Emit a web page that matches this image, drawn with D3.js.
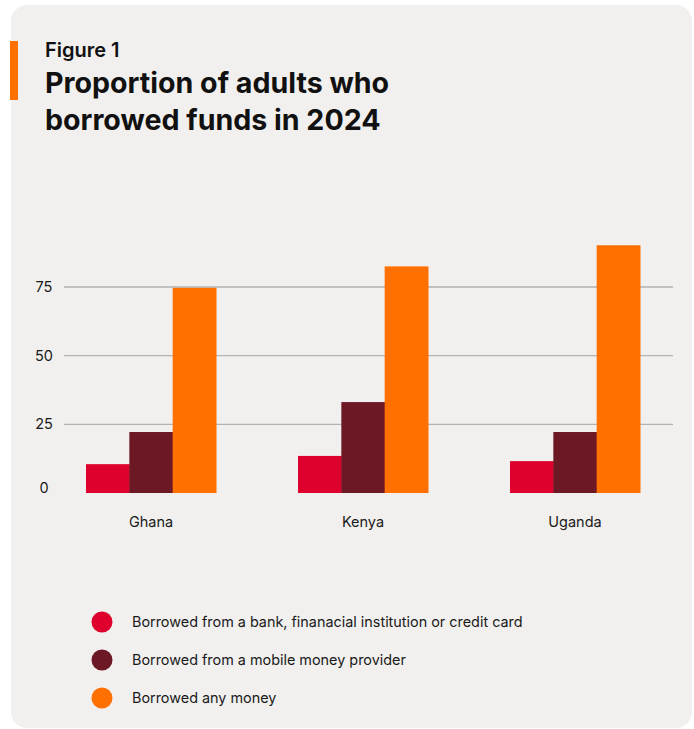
<!DOCTYPE html>
<html>
<head>
<meta charset="utf-8">
<style>
  body { margin: 0; background: #fff; }
  svg { display: block; font-family: Inter, "Noto Sans", sans-serif; }
</style>
<script src="https://cdn.jsdelivr.net/npm/d3@7"></script>
</head>
<body>
<svg></svg>
<script>

var countries = ["Ghana", "Kenya", "Uganda"],
    seriesNames = ["Borrowed from a bank, finanacial institution or credit card",
                   "Borrowed from a mobile money provider",
                   "Borrowed any money"],
    seriesColours = ["#de002d", "#6c1825", "#ff7000"],
    bankValues = [10.5, 13.5, 11.6],
    mobileValues = [22.2, 33.1, 22.2],
    anyValues = [74.7, 82.5, 90.2],
    yTicks = [0, 25, 50, 75];

var width = 694,
    height = 729,
    svg = d3.select("svg").attr("width", width).attr("height", height);

var series = [bankValues, mobileValues, anyValues];

// card background
svg.append("rect")
    .attr("x", 11).attr("y", 5)
    .attr("width", 681).attr("height", 723)
    .attr("rx", 16)
    .attr("fill", "#f1f0ee");

// accent bar + titles
svg.append("rect")
    .attr("x", 10).attr("y", 41)
    .attr("width", 8).attr("height", 59)
    .attr("fill", "#ff7000");

svg.append("text")
    .attr("x", 45).attr("y", 57)
    .attr("font-size", 20).attr("font-weight", 600)
    .attr("fill", "#111")
    .text("Figure 1");

svg.append("text")
    .attr("x", 45).attr("y", 93)
    .attr("font-size", 28.6).attr("font-weight", 700)
    .attr("fill", "#111")
    .text("Proportion of adults who");

svg.append("text")
    .attr("x", 45).attr("y", 130)
    .attr("font-size", 28.6).attr("font-weight", 700)
    .attr("fill", "#111")
    .text("borrowed funds in 2024");

var y = d3.scaleLinear().domain([0, 75]).range([493, 287]);

var x = d3.scaleBand().domain(countries).range([45, 681]);

var xSub = d3.scaleBand().domain(d3.range(series.length)).range([0, 130]);

// gridlines
svg.append("g")
  .selectAll("line")
  .data(yTicks.filter(d => d > 0))
  .join("line")
    .attr("x1", 64).attr("x2", 673)
    .attr("y1", d => y(d)).attr("y2", d => y(d))
    .attr("stroke", "#b2b2b2")
    .attr("stroke-width", 1.3);

// y labels
svg.append("g")
  .selectAll("text")
  .data(yTicks)
  .join("text")
    .attr("x", 44)
    .attr("y", d => Math.min(y(d), y(0) - 5))
    .attr("dy", "0.35em")
    .attr("text-anchor", "middle")
    .attr("font-size", 14.5)
    .attr("fill", "#1a1a1a")
    .text(d => d);

// bars
var groups = svg.append("g")
  .selectAll("g")
  .data(countries)
  .join("g")
    .attr("transform", d => "translate(" + (x(d) + x.bandwidth() / 2 - 65) + ",0)");

groups.selectAll("rect")
  .data((c, ci) => series.map((s, si) => ({ si: si, v: s[ci] })))
  .join("rect")
    .attr("x", d => xSub(d.si))
    .attr("width", xSub.bandwidth() + 0.5)
    .attr("y", d => y(d.v))
    .attr("height", d => y(0) - y(d.v))
    .attr("fill", d => seriesColours[d.si]);

// x labels
svg.append("g")
  .selectAll("text")
  .data(countries)
  .join("text")
    .attr("x", d => x(d) + x.bandwidth() / 2)
    .attr("y", 522)
    .attr("dy", "0.35em")
    .attr("text-anchor", "middle")
    .attr("font-size", 14.5)
    .attr("fill", "#1a1a1a")
    .text(d => d);

// legend
var legend = svg.append("g")
  .selectAll("g")
  .data(seriesNames)
  .join("g")
    .attr("transform", (d, i) => "translate(102," + (622 + i * 38) + ")");

legend.append("circle")
    .attr("r", 10.5)
    .attr("fill", (d, i) => seriesColours[i]);

legend.append("text")
    .attr("x", 30)
    .attr("dy", "0.35em")
    .attr("font-size", 14.4)
    .attr("fill", "#1a1a1a")
    .text(d => d);

</script>
</body>
</html>
